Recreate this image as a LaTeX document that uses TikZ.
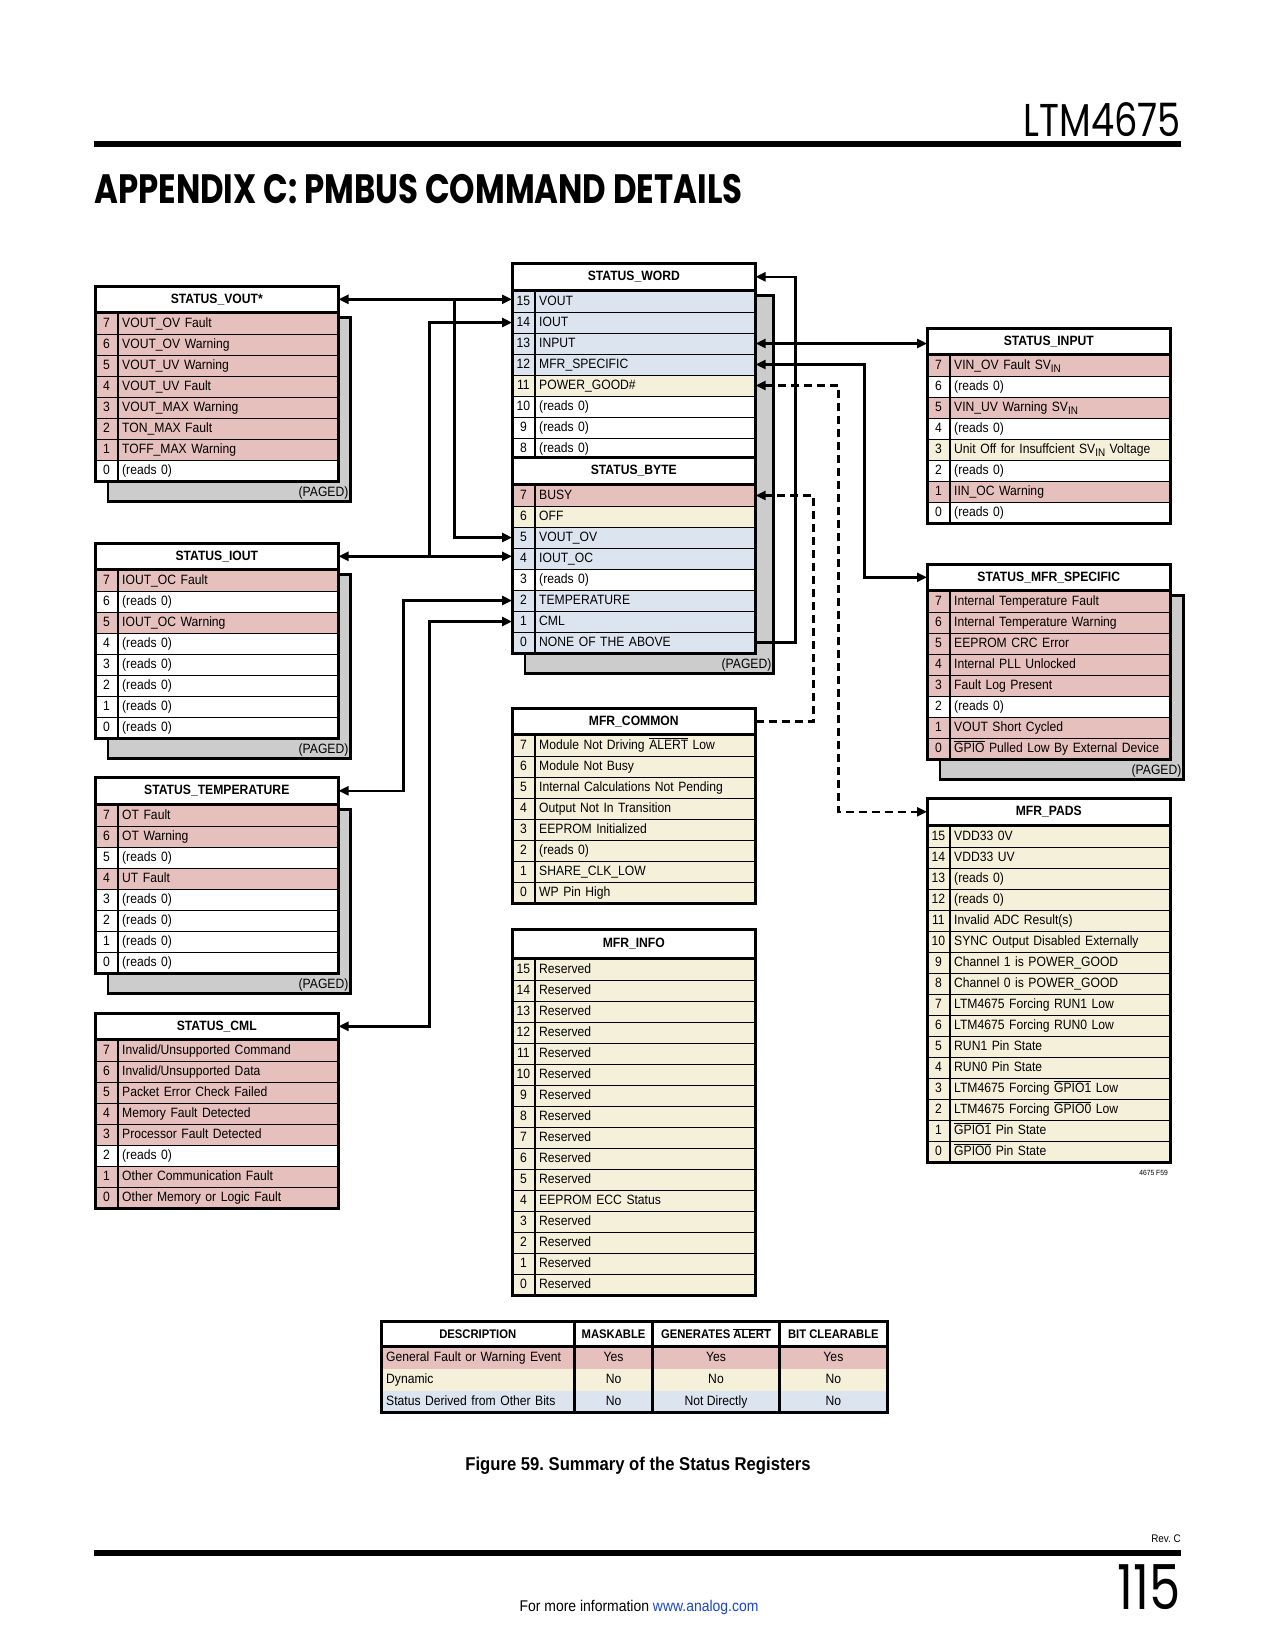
\documentclass[tikz,border=0pt]{standalone}
\usepackage{fontspec}
\setmainfont{Liberation Sans}[FakeStretch=0.9]
\newfontfamily\titlefont{Poppins}[FakeStretch=0.79]
\newfontfamily\pagefont{Poppins}[FakeStretch=0.8]
\usetikzlibrary{arrows.meta, positioning, calc, backgrounds}

\definecolor{faultPink}{RGB}{230,192,188}
\definecolor{dynYellow}{RGB}{245,240,218}
\definecolor{derivBlue}{RGB}{220,228,240}
\definecolor{pagedGray}{RGB}{204,204,204}
\definecolor{linkBlue}{RGB}{25,70,200}

\frenchspacing
\newcommand{\rowfont}{\fontsize{13.5}{15}\selectfont}
\newcommand{\hdfont}{\bfseries\fontsize{13.5}{15}\selectfont}
\newcommand{\ovl}[1]{\ensuremath{\overline{\mbox{#1}}}}
\newcommand{\subin}{\raisebox{-3pt}{\fontsize{11}{11}\selectfont IN}}

% register box: name, x, y, header height, title, last bit, rows
\newcommand{\regbox}[7]{%
  \node[reghead, minimum height=#4, anchor=north west] (#1) at (#2,#3) {#5};
  \foreach \bitno/\bittext/\bitcol [count=\rowidx from 0] in {#7} {
    \node[bitcell, fill=\bitcol, anchor=north west] (#1-\bitno) at ($(#1.south west)+(0,\rowidx*21)$) {\bitno};
    \node[textcell, fill=\bitcol, anchor=west] (#1-\bitno-t) at (#1-\bitno.east) {\bittext};
  }
  \draw[frame] (#1.north west) rectangle (#1-#6-t.south east);
}
% paged shadow: head, last row, right offset
\newcommand{\paged}[3]{%
  \begin{scope}[on background layer]
    \draw[pagedbg] ($(#1.south west)+(13,5)$) rectangle ($(#2.south east)+(#3,20)$);
  \end{scope}
  \node[pagedtxt, anchor=south east] (#1-pg) at ($(#2.south east)+(#3-2,18)$) {(PAGED)};
}

\begin{document}
\begin{tikzpicture}[x=1pt, y=-1pt,
    reghead/.style={draw, line width=1.6pt, fill=white, minimum width=242pt, inner sep=0pt, font=\hdfont},
    bitcell/.style={draw, line width=0.8pt, minimum width=22pt, minimum height=21pt, inner sep=0pt,
      font=\rowfont, text height=9.7pt, text depth=2.7pt},
    textcell/.style={draw, line width=0.8pt, minimum height=21pt, text width=212pt, inner xsep=4pt,
      inner ysep=0pt, align=left, font=\rowfont, text height=9.7pt, text depth=2.7pt},
    frame/.style={line width=3pt},
    pagedbg/.style={draw, line width=2.6pt, fill=pagedGray},
    pagedtxt/.style={font=\rowfont, inner sep=0pt},
    regtip/.tip={Triangle[length=10pt, width=9pt]},
    link/.style={line width=2.6pt},
    arrow/.style={link, -regtip},
    biarrow/.style={link, regtip-regtip},
    dashlink/.style={line width=2.5pt, dash pattern=on 8pt off 5pt},
    darrow/.style={dashlink, -regtip},
    dbiarrow/.style={dashlink, regtip-regtip},
    sumhead/.style={font=\bfseries\fontsize{12.5}{14}\selectfont, minimum height=25pt, inner sep=0pt, fill=white},
    sumcell/.style={font=\rowfont, minimum height=22pt, inner ysep=0pt, inner xsep=5pt,
      text height=9.7pt, text depth=2.7pt},
  ]
  \useasboundingbox (0,0) rectangle (1275,1650);

  % page header
  \node[anchor=base east, inner sep=0pt, font=\pagefont\fontsize{46}{50}\selectfont] (partno) at (1181,136) {LTM4675};
  \draw[line width=6pt] (94,144) -- (1181,144);
  \node[anchor=base west, inner sep=0pt, font=\titlefont\bfseries\fontsize{41}{44}\selectfont] (apptitle) at (94,203)
    {APPENDIX C: PMBUS COMMAND DETAILS};

  % left column
  \regbox{vout}{95}{286}{25pt}{STATUS\_VOUT*}{0}{7/VOUT\_OV Fault/faultPink, 6/VOUT\_OV Warning/faultPink,
    5/VOUT\_UV Warning/faultPink, 4/VOUT\_UV Fault/faultPink, 3/VOUT\_MAX Warning/faultPink,
    2/TON\_MAX Fault/faultPink, 1/TOFF\_MAX Warning/faultPink, 0/(reads 0)/white}
  \paged{vout}{vout-0-t}{12}

  \regbox{iout}{95}{543}{25pt}{STATUS\_IOUT}{0}{7/IOUT\_OC Fault/faultPink, 6/(reads 0)/white,
    5/IOUT\_OC Warning/faultPink, 4/(reads 0)/white, 3/(reads 0)/white, 2/(reads 0)/white,
    1/(reads 0)/white, 0/(reads 0)/white}
  \paged{iout}{iout-0-t}{12}

  \regbox{temp}{95}{777}{26pt}{STATUS\_TEMPERATURE}{0}{7/OT Fault/faultPink, 6/OT Warning/faultPink,
    5/(reads 0)/white, 4/UT Fault/faultPink, 3/(reads 0)/white, 2/(reads 0)/white,
    1/(reads 0)/white, 0/(reads 0)/white}
  \paged{temp}{temp-0-t}{12}

  \regbox{cml}{95}{1013}{25pt}{STATUS\_CML}{0}{7/{Invalid/Unsupported Command}/faultPink,
    6/{Invalid/Unsupported Data}/faultPink, 5/Packet Error Check Failed/faultPink,
    4/Memory Fault Detected/faultPink, 3/Processor Fault Detected/faultPink, 2/(reads 0)/white,
    1/Other Communication Fault/faultPink, 0/Other Memory or Logic Fault/faultPink}

  % middle column
  \regbox{sw}{512}{263}{26pt}{STATUS\_WORD}{8}{15/VOUT/derivBlue, 14/IOUT/derivBlue, 13/INPUT/derivBlue,
    12/MFR\_SPECIFIC/derivBlue, 11/POWER\_GOOD\#/dynYellow, 10/(reads 0)/white, 9/(reads 0)/white,
    8/(reads 0)/white}
  \regbox{sb}{512}{457}{26pt}{STATUS\_BYTE}{0}{7/BUSY/faultPink, 6/OFF/dynYellow, 5/VOUT\_OV/derivBlue,
    4/IOUT\_OC/derivBlue, 3/(reads 0)/white, 2/TEMPERATURE/derivBlue, 1/CML/derivBlue,
    0/NONE OF THE ABOVE/derivBlue}
  \paged{sw}{sb-0-t}{18}

  \regbox{mcom}{512}{708}{25pt}{MFR\_COMMON}{0}{7/Module Not Driving \ovl{ALERT} Low/dynYellow,
    6/Module Not Busy/dynYellow, 5/Internal Calculations Not Pending/dynYellow,
    4/Output Not In Transition/dynYellow, 3/EEPROM Initialized/dynYellow, 2/(reads 0)/dynYellow,
    1/SHARE\_CLK\_LOW/dynYellow, 0/WP Pin High/dynYellow}

  \regbox{minfo}{512}{929}{28pt}{MFR\_INFO}{0}{15/Reserved/dynYellow, 14/Reserved/dynYellow,
    13/Reserved/dynYellow, 12/Reserved/dynYellow, 11/Reserved/dynYellow, 10/Reserved/dynYellow,
    9/Reserved/dynYellow, 8/Reserved/dynYellow, 7/Reserved/dynYellow, 6/Reserved/dynYellow,
    5/Reserved/dynYellow, 4/EEPROM ECC Status/dynYellow, 3/Reserved/dynYellow, 2/Reserved/dynYellow,
    1/Reserved/dynYellow, 0/Reserved/dynYellow}

  % right column
  \regbox{sin}{927}{328}{25pt}{STATUS\_INPUT}{0}{7/VIN\_OV Fault SV\subin/faultPink,
    6/(reads 0)/white, 5/VIN\_UV Warning SV\subin/faultPink, 4/(reads 0)/white,
    3/Unit Off for Insuffcient SV\subin{} Voltage/dynYellow, 2/(reads 0)/white,
    1/IIN\_OC Warning/faultPink, 0/(reads 0)/white}

  \regbox{smfr}{927}{564}{25pt}{STATUS\_MFR\_SPECIFIC}{0}{7/Internal Temperature Fault/faultPink,
    6/Internal Temperature Warning/faultPink, 5/EEPROM CRC Error/faultPink,
    4/Internal PLL Unlocked/faultPink, 3/Fault Log Present/faultPink, 2/(reads 0)/white,
    1/VOUT Short Cycled/faultPink, 0/\ovl{GPIO} Pulled Low By External Device/faultPink}
  \paged{smfr}{smfr-0-t}{13}

  \regbox{pads}{927}{798}{26pt}{MFR\_PADS}{0}{15/VDD33 0V/dynYellow, 14/VDD33 UV/dynYellow,
    13/(reads 0)/dynYellow, 12/(reads 0)/dynYellow, 11/Invalid ADC Result(s)/dynYellow,
    10/SYNC Output Disabled Externally/dynYellow, 9/Channel 1 is POWER\_GOOD/dynYellow,
    8/Channel 0 is POWER\_GOOD/dynYellow, 7/LTM4675 Forcing RUN1 Low/dynYellow,
    6/LTM4675 Forcing RUN0 Low/dynYellow, 5/RUN1 Pin State/dynYellow, 4/RUN0 Pin State/dynYellow,
    3/LTM4675 Forcing \ovl{GPIO1} Low/dynYellow, 2/LTM4675 Forcing \ovl{GPIO0} Low/dynYellow,
    1/\ovl{GPIO1} Pin State/dynYellow, 0/\ovl{GPIO0} Pin State/dynYellow}
  \node[anchor=base east, inner sep=0pt, font=\fontsize{7.5}{8}\selectfont] (figno) at (1168,1175) {4675 F59};

  % connectors, left side
  \coordinate (voutjoin) at ($(vout.east)+(116,0)$);
  \coordinate (ioutjoin) at ($(iout.east)+(91,0)$);
  \draw[biarrow] (vout.east) -- (vout.east -| sw-15.west);
  \draw[arrow] (voutjoin) |- (sb-5.west);
  \draw[biarrow] (iout.east) -- (iout.east -| sb-4.west);
  \draw[arrow] (ioutjoin) |- (sw-14.west);
  \draw[biarrow] (temp.east) -- ++(65,0) |- (sb-2.west);
  \draw[biarrow] (cml.east) -- ++(91,0) |- (sb-1.west);

  % connectors, right side
  \draw[arrow] (sb-0-t.east) -- ++(40,0) |- (sw.east);
  \draw[biarrow] (sw-13-t.east) -- (sw-13-t.east -| sin.west);
  \draw[biarrow] (sw-12-t.east) -- ++(109,0) |- (smfr.west);
  \draw[dbiarrow] (sw-11-t.east) -- ++(83,0) |- (pads.west);
  \draw[darrow] (mcom.east) -- ++(58,0) |- (sb-7-t.east);

  % summary table
  \node[sumhead, minimum width=193pt, anchor=north west] (sh1) at (381,1321) {DESCRIPTION};
  \node[sumhead, minimum width=78pt, anchor=west] (sh2) at (sh1.east) {MASKABLE};
  \node[sumhead, minimum width=126pt, anchor=west] (sh3) at (sh2.east) {GENERATES \ovl{ALERT}};
  \node[sumhead, minimum width=108pt, anchor=west] (sh4) at (sh3.east) {BIT CLEARABLE};
  \foreach \desc/\mk/\ga/\bc/\col [count=\r] in {General Fault or Warning Event/Yes/Yes/Yes/faultPink,
      Dynamic/No/No/No/dynYellow, Status Derived from Other Bits/No/Not Directly/No/derivBlue} {
    \node[sumcell, fill=\col, text width=183pt, align=left, anchor=north west] (sr\r-1)
      at ($(sh1.south west)+(0,{(\r-1)*22})$) {\desc};
    \node[sumcell, fill=\col, minimum width=78pt, anchor=west] (sr\r-2) at (sr\r-1.east) {\mk};
    \node[sumcell, fill=\col, minimum width=126pt, anchor=west] (sr\r-3) at (sr\r-2.east) {\ga};
    \node[sumcell, fill=\col, minimum width=108pt, anchor=west] (sr\r-4) at (sr\r-3.east) {\bc};
  }
  \draw[frame] (sh1.south west) -- (sh4.south east);
  \foreach \c in {1,2,3} {
    \draw[frame] (sh\c.north east) -- (sr3-\c.south east);
  }
  \draw[frame] (sh1.north west) rectangle (sr3-4.south east);

  \node[anchor=base, inner sep=0pt, font=\bfseries\fontsize{18.5}{20}\selectfont] (figcap) at (638,1470)
    {Figure 59. Summary of the Status Registers};

  % page footer
  \node[anchor=base east, inner sep=0pt, font=\fontsize{11}{12}\selectfont] (rev) at (1181,1542) {Rev. C};
  \draw[line width=6pt] (94,1553) -- (1181,1553);
  \node[anchor=base east, inner sep=0pt, font=\pagefont\fontsize{62}{64}\selectfont] (pageno) at (1181,1609) {115};
  \node[anchor=base, inner sep=0pt, font=\fontsize{15.5}{17}\selectfont] (moreinfo) at (639,1611)
    {For more information \textcolor{linkBlue}{www.analog.com}};
\end{tikzpicture}
\end{document}
